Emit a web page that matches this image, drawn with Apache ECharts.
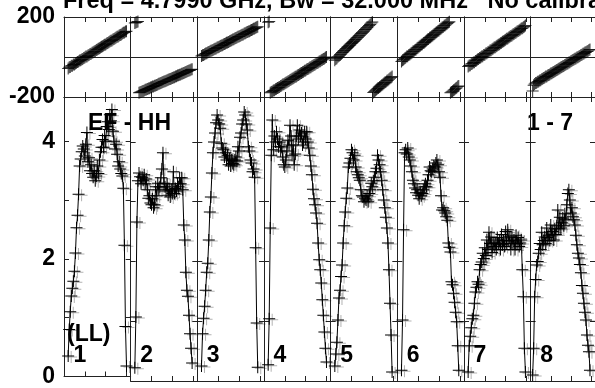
<!DOCTYPE html>
<html><head><meta charset="utf-8">
<script src="https://cdn.jsdelivr.net/npm/echarts@6.0.0/dist/echarts.min.js"></script>
<style>html,body{margin:0;padding:0;background:#fff}#c{width:595px;height:388px}</style>
</head><body><div id="c"></div>
<script>
const titleText = 'Freq = 4.7990 GHz, Bw = 32.000 MHz   No calibration';
const sourceText = 'EF - HH';
const baselineRange = '1 - 7';
const polText = '(LL)';
const ifLabels = ['1','2','3','4','5','6','7','8'];
const firstChan = [4,4,4,4,4,4,4,2];
const phaseTickLabels = [-200, 200];
const ampTickLabels = [0, 2, 4];

const amp1 = [0.35,0.8,1.1,1.37,1.5,1.62,1.79,2.1,2.53,2.74,3.1,3.58,3.7,3.82,3.92,3.87,3.75,3.95,4.15,3.65,3.72,3.5,3.6,3.45,3.39,3.5,3.33,3.41,3.58,3.45,3.68,3.82,3.9,4.03,3.9,4.1,4.0,4.25,4.33,4.2,4.45,4.35,4.54,4.17,4.0,3.87,3.95,3.78,3.58,3.65,3.53,3.45,3.41,3.2,2.23,0.85,0.18];
const amp2 = [0.22,1.07,2.66,3.35,3.48,3.42,3.3,3.41,3.36,3.45,3.3,3.38,3.2,3.06,3.1,2.98,2.95,3.05,2.9,2.95,3.25,3.1,3.31,3.2,3.25,3.4,3.55,3.82,3.31,3.25,3.18,3.3,3.11,3.2,3.08,3.2,3.14,3.5,3.14,3.22,3.18,3.3,3.25,3.4,3.3,3.4,3.2,2.61,2.36,1.82,1.52,1.42,1.1,0.79,0.55,0.3];
const amp3 = [0.25,0.79,1.05,1.25,1.52,1.82,1.97,2.36,2.83,3.08,3.48,3.82,4.0,4.15,4.32,4.45,4.37,4.3,4.23,3.98,3.9,3.87,3.75,3.82,3.7,3.78,3.62,3.72,3.6,3.7,3.64,3.62,3.7,3.75,3.68,3.92,3.85,4.08,4.15,4.3,4.37,4.5,4.45,4.3,4.2,3.92,3.85,3.7,3.65,3.5,3.55,3.41,2.23,0.97,0.23];
const amp4 = [0.27,1.04,2.56,3.78,4.37,3.87,4.1,4.0,4.17,4.05,3.92,4.0,3.85,3.92,3.75,3.62,3.58,3.7,3.85,4.03,3.95,4.28,4.1,3.78,3.95,3.62,3.8,4.1,4.28,4.05,4.2,4.1,4.15,3.95,4.0,4.17,4.05,4.17,4.0,3.9,3.78,3.6,3.45,3.21,3.05,2.95,2.81,2.64,2.31,2.03,1.86,1.64,1.36,1.1,0.82,0.55,0.32];
const amp5 = [0.25,0.45,0.65,1.02,1.39,1.52,1.75,1.94,2.31,2.6,2.83,3.06,3.23,3.58,3.65,3.73,3.87,3.82,3.7,3.78,3.58,3.5,3.45,3.4,3.36,3.2,3.1,3.08,3.0,3.05,3.03,3.1,3.0,3.14,3.2,3.31,3.25,3.35,3.41,3.5,3.56,3.78,3.7,3.62,3.5,3.36,3.2,3.03,2.9,2.74,2.56,2.31,1.86,1.3,0.77,0.15];
const amp6 = [0.18,1.02,2.53,3.82,3.87,3.8,3.9,3.75,3.7,3.6,3.5,3.36,3.3,3.23,3.15,3.2,3.11,3.05,3.15,3.1,3.14,3.2,3.25,3.3,3.25,3.36,3.45,3.58,3.52,3.5,3.55,3.6,3.58,3.65,3.7,3.62,3.5,3.41,3.1,2.86,2.9,2.85,2.81,2.75,2.69,2.31,2.24,2.16,1.66,1.61,1.47,1.32,1.15,0.99,0.59,0.18];
const amp7 = [0.15,0.59,0.75,0.89,1.04,1.1,1.3,1.49,1.57,1.66,1.62,1.86,1.95,1.99,2.14,2.05,2.23,2.1,2.36,2.2,2.49,2.3,2.41,2.15,2.31,2.25,2.31,2.2,2.4,2.3,2.36,2.2,2.45,2.28,2.35,2.25,2.5,2.3,2.53,2.35,2.41,2.2,2.41,2.3,2.36,2.2,2.44,2.3,2.4,2.25,2.31,2.36,1.86,1.41,0.55,0.15];
const amp8 = [0.1,0.55,1.41,1.7,1.94,2.0,2.14,2.3,2.2,2.49,2.28,2.35,2.41,2.3,2.56,2.4,2.44,2.35,2.61,2.45,2.5,2.36,2.55,2.45,2.6,2.86,2.55,2.74,2.56,2.65,2.73,2.6,2.8,2.7,2.95,3.14,3.2,3.03,2.81,2.9,2.75,2.7,2.61,2.44,2.28,2.14,2.06,1.95,1.81,1.6,1.47,1.3,1.15,1.02,0.77,0.6,0.49,0.18];

const ph1 = [-57,-51,-50,-44,-44,-38,-37,-32,-29,-25,-23,-18,-16,-12,-10,-5,-3,2,3,8,10,15,16,21,24,28,30,35,37,41,44,48,51,54,57,61,63,68,70,74,77,81,83,88,90,94,97,101,103,108,110,113,117,121,123,127,129];
const ph2 = [170,173,175,178,-179,-176,-175,-171,-170,-167,-164,-163,-160,-157,-156,-152,-151,-148,-147,-144,-142,-140,-137,-134,-133,-130,-128,-125,-123,-121,-119,-116,-114,-111,-110,-107,-105,-102,-101,-98,-96,-93,-91,-89,-87,-84,-82,-80,-77,-75,-73,-70,-68,-66,-63,-61];
const ph3 = [5,9,10,14,18,19,23,25,27,31,33,35,39,41,43,47,49,51,55,57,59,63,65,67,71,73,75,79,81,84,87,89,92,95,97,101,103,105,109,111,113,117,119,122,125,127,129,133,135,138,141,143,146,149,151];
const ph4 = [174,178,-179,-175,-173,-168,-166,-161,-159,-155,-152,-150,-145,-143,-138,-136,-132,-129,-126,-122,-120,-115,-113,-109,-106,-103,-99,-97,-92,-90,-86,-83,-80,-76,-74,-69,-67,-63,-60,-57,-53,-51,-46,-44,-40,-37,-33,-30,-27,-23,-21,-16,-14,-10,-7,-3,0];
const ph5 = [-16,-10,-6,1,5,11,15,22,26,32,36,43,47,53,57,64,67,73,78,84,88,95,99,105,109,116,120,125,130,137,140,146,151,157,163,170,175,-177,-172,-168,-162,-158,-155,-150,-146,-141,-137,-132,-128,-125,-119,-116,-111,-106,-102,-98];
const ph6 = [-22,-16,-13,-7,-4,2,4,10,12,18,21,27,30,35,38,44,47,53,56,61,64,70,73,78,82,87,90,96,99,104,107,113,116,121,125,130,133,139,142,147,150,156,159,164,168,173,176,-179,-175,-171,-166,-162,-157,-154,-148,-145];
const ph7 = [-48,-43,-41,-35,-33,-27,-26,-20,-18,-13,-10,-5,-3,2,4,10,11,17,19,24,26,32,34,39,42,47,49,54,57,61,64,69,71,76,79,83,86,91,93,98,101,105,108,112,115,120,122,127,130,134,137,142,144,149,152,158];
const ph8 = [-170,-141,-135,-130,-129,-124,-123,-117,-116,-111,-109,-105,-103,-98,-97,-93,-90,-87,-83,-81,-77,-75,-71,-69,-65,-63,-59,-56,-53,-50,-46,-45,-40,-38,-34,-32,-28,-26,-21,-19,-15,-13,-9,-7,-3,-1,3,5,10,11,16,17,22,24,28,30,35,37];

const amps = [amp1,amp2,amp3,amp4,amp5,amp6,amp7,amp8];
const phases = [ph1,ph2,ph3,ph4,ph5,ph6,ph7,ph8];

// ---- layout / style ----
const NCH = 64, AMP_MAX = 4.753;
const X0 = 64, X1 = 597.3, W = (X1 - X0) / 8;
const PH_TOP = 17, PH_H = 80, AMP_TOP = 97, AMP_H = 284;
const FF = '"Liberation Sans", Arial, Helvetica, sans-serif';
const FONT = 'bold 23px ' + FF;
const TFONT = 'bold 23.5px ' + FF;
const LS = {color: '#222', width: 1};
const CROSS = 'path://M0,5.5L12,5.5L12,6.5L0,6.5ZM5.5,0L6.5,0L6.5,12L5.5,12Z';

const grid = [], xAxis = [], yAxis = [], series = [], graphic = [];

function xAx(gi, pos) {
  return {type: 'value', gridIndex: gi, position: pos, min: 0, max: NCH, interval: 20,
    axisLine: {show: true, onZero: false, lineStyle: LS},
    axisTick: {show: true, inside: true, length: 5, lineStyle: LS},
    axisLabel: {show: false}, splitLine: {show: false}};
}
function yAx(gi, pos, kind, showLab) {
  const ph = kind === 'ph';
  return {type: 'value', gridIndex: gi, position: pos,
    min: ph ? -200 : 0, max: ph ? 200 : AMP_MAX, interval: ph ? 200 : 1,
    axisLine: {show: true, onZero: false, lineStyle: LS},
    axisTick: {show: !ph, inside: true, length: 5, lineStyle: LS},
    splitLine: {show: ph, lineStyle: LS},
    axisLabel: {show: showLab, color: '#000', fontSize: 23, fontWeight: 'bold', fontFamily: FF, margin: 9,
      formatter: v => (ph ? phaseTickLabels : ampTickLabels).indexOf(v) >= 0 ? String(v) : ''}};
}

for (let k = 0; k < 8; k++) {
  const left = X0 + k * W;
  grid.push({left: left, top: PH_TOP, width: W, height: PH_H, containLabel: false});
  grid.push({left: left, top: AMP_TOP, width: W, height: AMP_H, containLabel: false});
  const gp = 2 * k, ga = 2 * k + 1;
  xAxis.push(xAx(gp, 'bottom'), xAx(gp, 'top'), xAx(ga, 'bottom'), xAx(ga, 'top'));
  yAxis.push(yAx(gp, 'left', 'ph', k === 0), yAx(gp, 'right', 'ph', false),
             yAx(ga, 'left', 'amp', k === 0), yAx(ga, 'right', 'amp', false));
  const f = firstChan[k];
  series.push({type: 'scatter', xAxisIndex: 4 * k, yAxisIndex: 4 * k,
    data: phases[k].map((v, i) => [f + i, v]),
    symbol: CROSS, symbolSize: 12,
    itemStyle: {color: '#000'},
    silent: true});
  series.push({type: 'line', xAxisIndex: 4 * k + 2, yAxisIndex: 4 * k + 2,
    data: amps[k].map((v, i) => [f + i, v]),
    symbol: CROSS, symbolSize: 12, showSymbol: true, showAllSymbol: true,
    lineStyle: {color: '#000', width: 1},
    itemStyle: {color: '#000', shadowColor: 'rgba(0,0,0,0.3)', shadowOffsetX: 3, shadowOffsetY: 1, shadowBlur: 0},
    silent: true});
  graphic.push({type: 'text', x: left + 9.5, y: 356,
    style: {text: ifLabels[k], font: FONT, fill: '#000', align: 'left', verticalAlign: 'middle'}});
}

graphic.push({type: 'text', x: 63, y: 1.5, style: {text: titleText, font: TFONT, fill: '#000', align: 'left', verticalAlign: 'middle'}});
graphic.push({type: 'text', x: 88, y: 123.5, style: {text: sourceText, font: FONT, fill: '#000', align: 'left', verticalAlign: 'middle'}});
graphic.push({type: 'text', x: 527, y: 123.5, style: {text: baselineRange, font: FONT, fill: '#000', align: 'left', verticalAlign: 'middle'}});
graphic.push({type: 'text', x: 67, y: 335, style: {text: polText, font: FONT, fill: '#000', align: 'left', verticalAlign: 'middle'}});

const chart = echarts.init(document.getElementById('c'), null, {renderer: 'canvas'});
chart.setOption({animation: false, backgroundColor: '#fff', grid, xAxis, yAxis, series, graphic});
</script>
</body></html>
